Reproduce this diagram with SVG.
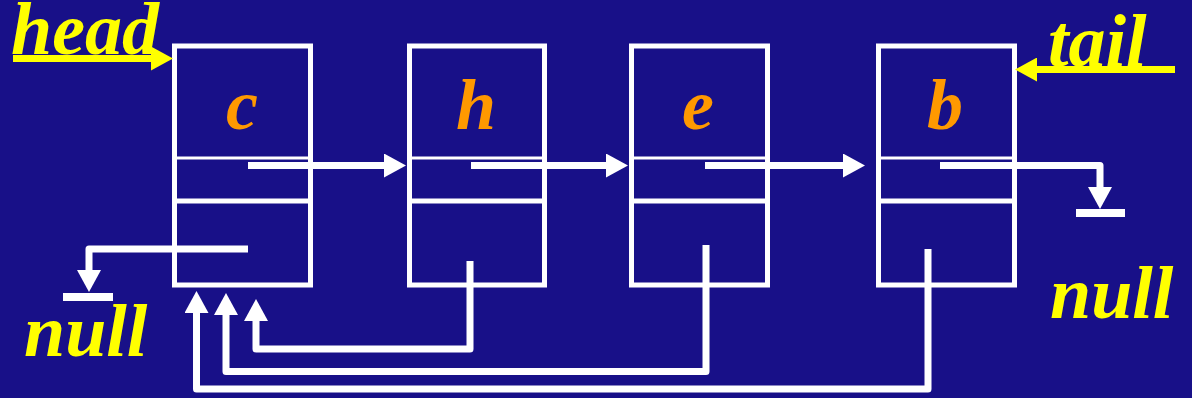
<svg xmlns="http://www.w3.org/2000/svg" width="1192" height="398" viewBox="0 0 1192 398">
  <defs>
    <style>
      .bg { fill: #181088; }
      .box { fill: none; stroke: #ffffff; stroke-width: 5; }
      .thin { stroke: #ffffff; stroke-width: 3; }
      .thick { stroke: #ffffff; stroke-width: 5; }
      .val { font-family: "Liberation Serif", "Times New Roman", serif; font-weight: bold; font-style: italic; font-size: 72px; fill: #ff9900; text-anchor: middle; }
      .lbl { font-family: "Liberation Serif", "Times New Roman", serif; font-weight: bold; font-style: italic; font-size: 74px; fill: #ffff00; }
      .link { fill: none; stroke: #ffffff; stroke-width: 7; stroke-linejoin: round; marker-end: url(#ah); }
      .ptr { fill: none; stroke: #ffff00; stroke-width: 7; marker-end: url(#ahy); }
      .ground { fill: #ffffff; }
    </style>
    <marker id="ah" markerUnits="userSpaceOnUse" markerWidth="22" markerHeight="24" viewBox="0 0 22 24" refX="1" refY="12" orient="auto">
      <path d="M0,0 L22,12 L0,24 Z" fill="#ffffff"/>
    </marker>
    <marker id="ahy" markerUnits="userSpaceOnUse" markerWidth="22" markerHeight="24" viewBox="0 0 22 24" refX="1" refY="12" orient="auto">
      <path d="M0,0 L22,12 L0,24 Z" fill="#ffff00"/>
    </marker>
  </defs>

  <rect class="bg" x="0" y="0" width="1192" height="398"/>

  <!-- list nodes: value cell, next cell, prev cell -->
  <g id="node-c">
    <rect class="box" x="174.5" y="46" width="136" height="239"/>
    <line class="thin" x1="174.5" y1="158" x2="310.5" y2="158"/>
    <line class="thick" x1="174.5" y1="201" x2="310.5" y2="201"/>
    <text class="val" x="242" y="129">c</text>
  </g>
  <g id="node-h">
    <rect class="box" x="409.5" y="46" width="135" height="239"/>
    <line class="thin" x1="409.5" y1="158" x2="544.5" y2="158"/>
    <line class="thick" x1="409.5" y1="201" x2="544.5" y2="201"/>
    <text class="val" x="476" y="129">h</text>
  </g>
  <g id="node-e">
    <rect class="box" x="631.5" y="46" width="136" height="239"/>
    <line class="thin" x1="631.5" y1="158" x2="767.5" y2="158"/>
    <line class="thick" x1="631.5" y1="201" x2="767.5" y2="201"/>
    <text class="val" x="698" y="129">e</text>
  </g>
  <g id="node-b">
    <rect class="box" x="878.5" y="46" width="136" height="239"/>
    <line class="thin" x1="878.5" y1="158" x2="1014.5" y2="158"/>
    <line class="thick" x1="878.5" y1="201" x2="1014.5" y2="201"/>
    <text class="val" x="945" y="129">b</text>
  </g>

  <!-- head / tail / null labels -->
  <g id="labels">
    <text class="lbl" x="11" y="54">head</text>
    <text class="lbl" x="1048" y="66">tail</text>
    <text class="lbl" x="24" y="356">null</text>
    <text class="lbl" x="1050" y="318">null</text>
  </g>

  <g id="connectors">
    <!-- head and tail pointers -->
    <path class="ptr" d="M13,58.5 H152"/>
    <path class="ptr" d="M1175,69.5 H1036"/>

    <!-- next links -->
    <path class="link" d="M248,165.5 H385"/>
    <path class="link" d="M471,165.5 H607"/>
    <path class="link" d="M705,165.5 H844"/>
    <path class="link" d="M940,165.5 H1100 V188"/>
    <rect class="ground" x="1076" y="209" width="49" height="8"/>

    <!-- prev links -->
    <path class="link" d="M248,249 H89 V271"/>
    <rect class="ground" x="63" y="293" width="50" height="8"/>
    <path class="link" d="M470,261 V349 H256 V320"/>
    <path class="link" d="M706,245 V371.5 H226 V314"/>
    <path class="link" d="M928,249 V389 H196.5 V312"/>
  </g>
</svg>
